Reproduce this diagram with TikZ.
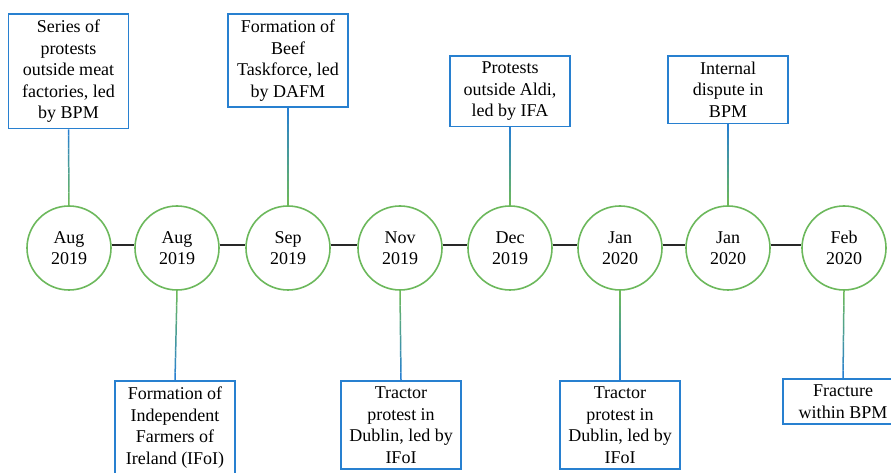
\documentclass[tikz,border=0pt]{standalone}
\usepackage{fontspec}
\setmainfont{Liberation Serif}
\usepackage{tikz}
\usetikzlibrary{calc}
\definecolor{ringgreen}{RGB}{108,184,92}
\definecolor{boxblue}{RGB}{40,128,208}
\definecolor{linegray}{RGB}{40,40,40}

\tikzset{
  month/.style={circle,draw=ringgreen,line width=1.6pt,minimum size=84pt,inner sep=0pt,align=center,font=\fontsize{18}{21.5}\selectfont},
  event/.style={draw=boxblue,line width=1.8pt,minimum width=120pt,inner xsep=3pt,inner ysep=6pt,align=center,font=\fontsize{18}{21.5}\selectfont},
}

\begin{document}
\begin{tikzpicture}[x=1pt,y=1pt]
\useasboundingbox (0,0) rectangle (891,473);
\clip (0,0) rectangle (891,473);
% the months
\node[month] (m1) at (69,225) {Aug\\2019};
\node[month] (m2) at (177,225) {Aug\\2019};
\node[month] (m3) at (288,225) {Sep\\2019};
\node[month] (m4) at (400,225) {Nov\\2019};
\node[month] (m5) at (510,225) {Dec\\2019};
\node[month] (m6) at (620,225) {Jan\\2020};
\node[month] (m7) at (728,225) {Jan\\2020};
\node[month] (m8) at (844,225) {Feb\\2020};
\foreach \a/\b in {m1/m2,m2/m3,m3/m4,m4/m5,m5/m6,m6/m7,m7/m8}
  \draw[linegray,line width=1.5pt] (\a.4) -- (\b.176);
% events above
\node[event,anchor=north] (e1) at (68.5,460) {Series of\\protests\\outside meat\\factories, led\\by BPM};
\node[event,anchor=north] (e3) at (288,460) {Formation of\\Beef\\Taskforce, led\\by DAFM};
\node[event,anchor=north] (e5) at (510,418) {Protests\\outside Aldi,\\led by IFA};
\node[event,anchor=north] (e7) at (728,418) {Internal\\dispute in\\BPM};
% events below
\node[event,anchor=north] (e2) at (175,93) {Formation of\\Independent\\Farmers of\\Ireland (IFoI)};
\node[event,anchor=north] (e4) at (401,93) {Tractor\\protest in\\Dublin, led by\\IFoI};
\node[event,anchor=north] (e6) at (620,93) {Tractor\\protest in\\Dublin, led by\\IFoI};
\node[event,anchor=north] (e8) at (843,95) {Fracture\\within BPM};
% links, blue at the box fading to green at the ring
\foreach \e/\ea/\m/\ma in {e1/south/m1/north,e3/south/m3/north,e5/south/m5/north,e7/south/m7/north,
                          e2/north/m2/south,e4/north/m4/south,e6/north/m6/south,e8/north/m8/south}
  \foreach \i in {0,...,11}{
    \pgfmathsetmacro\p{100-\i*100/11}
    \draw[boxblue!\p!ringgreen,line width=1.5pt]
      ($(\e.\ea)!{\i/12}!(\m.\ma)$) -- ($(\e.\ea)!{(\i+1)/12}!(\m.\ma)$);
  }
\end{tikzpicture}
\end{document}
